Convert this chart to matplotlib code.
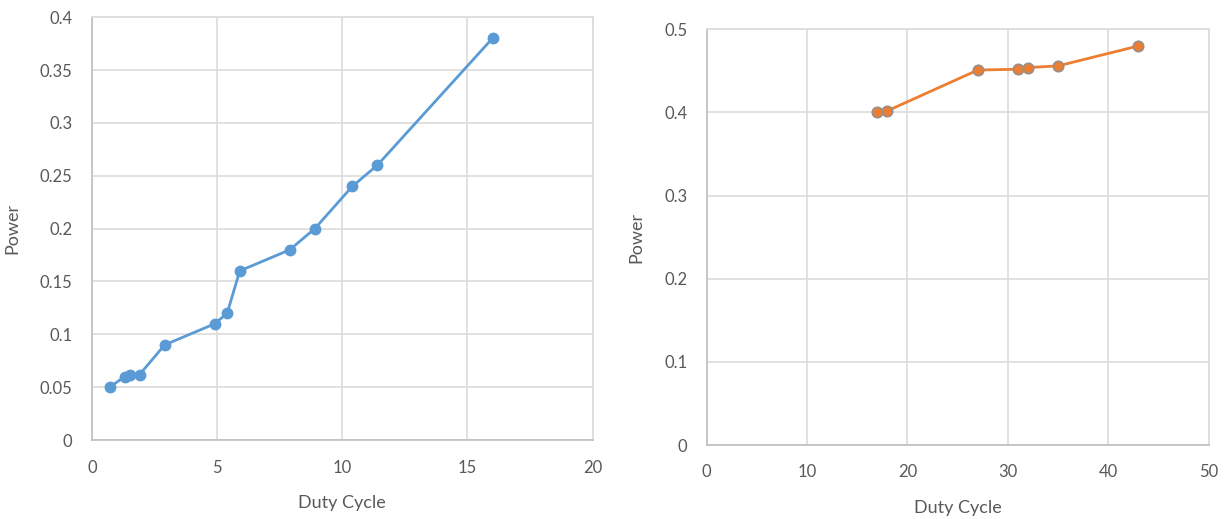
import matplotlib.pyplot as plt

# left chart: duty cycle vs power
duty_left = [0.7, 1.3, 1.5, 1.9, 2.9, 4.9, 5.4, 5.9, 7.9, 8.9, 10.4, 11.4, 16.0]
power_left = [0.05, 0.06, 0.062, 0.062, 0.09, 0.11, 0.12, 0.16, 0.18, 0.20, 0.24, 0.26, 0.38]

# right chart
duty_right = [17, 18, 27, 31, 32, 35, 43]
power_right = [0.40, 0.402, 0.451, 0.452, 0.454, 0.456, 0.48]

plt.rcParams['font.family'] = ['Lato', 'DejaVu Sans']

fig = plt.figure(figsize=(12.27, 5.19), dpi=100)
ax1 = fig.add_axes([0.075, 0.152, 0.408, 0.815])
ax2 = fig.add_axes([0.576, 0.1425, 0.409, 0.801])

grid_col = "#dcdcdc"
text_col = "#595959"


def style(ax, xmax, xstep, ymax, ystep, yfmt):
    ax.set_xlim(0, xmax)
    ax.set_ylim(0, ymax)
    xt = [i * xstep for i in range(int(round(xmax / xstep)) + 1)]
    yt = [round(i * ystep, 3) for i in range(int(round(ymax / ystep)) + 1)]
    ax.set_xticks(xt)
    ax.set_yticks(yt)
    ax.set_xticklabels([str(v) for v in xt])
    ax.set_yticklabels([yfmt(v) for v in yt])
    ax.grid(True, color=grid_col, linewidth=1.2)
    ax.set_axisbelow(True)
    for s in ax.spines.values():
        s.set_color(grid_col)
        s.set_linewidth(1.2)
    ax.spines['left'].set_color("#bfbfbf")
    ax.spines['bottom'].set_color("#bfbfbf")
    ax.tick_params(length=0, labelsize=12, colors=text_col, pad=14)
    ax.set_xlabel("Duty Cycle", fontsize=13, color=text_col, labelpad=14)
    ax.set_ylabel("Power", fontsize=13, color=text_col, labelpad=14)


def fmt(v):
    if v == 0:
        return "0"
    return ("%g" % v)


style(ax1, 20, 5, 0.4, 0.05, fmt)
style(ax2, 50, 10, 0.5, 0.1, fmt)

ax1.plot(duty_left, power_left, color="#5b9bd5", linewidth=2, marker="o",
         markersize=7.5, markerfacecolor="#5b9bd5", markeredgecolor="#5b9bd5")
ax2.plot(duty_right, power_right, color="#ed7d31", linewidth=2, marker="o",
         markersize=7.5, markerfacecolor="#ed7d31", markeredgecolor="#9a8e8a",
         markeredgewidth=1.2)

fig.savefig("out.png", dpi=100)
